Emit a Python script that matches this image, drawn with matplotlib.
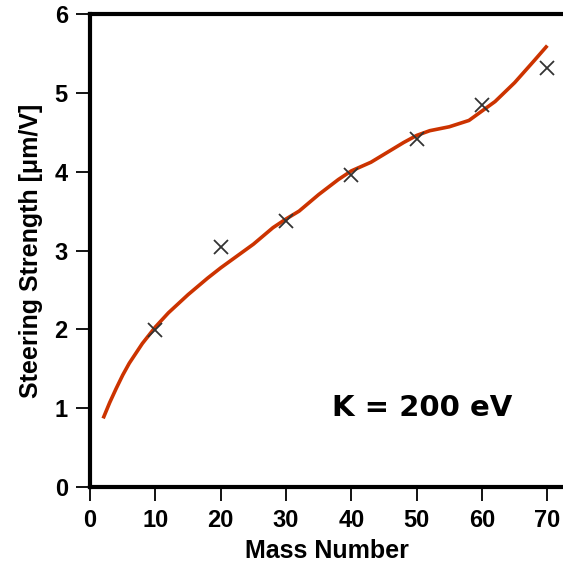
import matplotlib.pyplot as plt

# measured points (x markers)
mass_pts = [10, 20, 30, 40, 50, 60, 70]
strength_pts = [1.99, 3.04, 3.38, 3.96, 4.42, 4.85, 5.31]

# simulated curve
mass_curve = [2, 3, 4, 5, 6, 8, 10, 12, 15, 18, 20, 22, 25, 28, 30, 32, 35, 38, 40,
              43, 46, 48, 50, 52, 55, 58, 60, 62, 65, 68, 70]
strength_curve = [0.87, 1.07, 1.25, 1.42, 1.57, 1.82, 2.03, 2.21, 2.44, 2.65, 2.78,
                  2.90, 3.08, 3.29, 3.40, 3.50, 3.71, 3.90, 4.01, 4.12, 4.27, 4.37,
                  4.46, 4.52, 4.57, 4.65, 4.77, 4.89, 5.13, 5.41, 5.60]

plt.rcParams['font.family'] = ['Liberation Sans', 'DejaVu Sans']

fig = plt.figure(figsize=(5.63, 5.62), dpi=100)
ax = fig.add_axes([0.160, 0.1335, 0.84, 0.8415])

ax.plot(mass_curve, strength_curve, color="#cc3300", lw=2.6, solid_capstyle="butt")
ax.plot(mass_pts, strength_pts, "x", color="#333333", ms=10, mew=1.3)

ax.text(50.9, 1.0, "K = 200 eV", fontsize=21, fontweight="bold",
        family="DejaVu Sans", ha="center", va="center")

ax.set_xlim(0, 72.4)
ax.set_ylim(0, 6)
ax.set_xticks(range(0, 71, 10))
ax.set_yticks(range(0, 7))
ax.spines["right"].set_visible(False)
for s in ["left", "top", "bottom"]:
    ax.spines[s].set_linewidth(3)
ax.tick_params(direction="out", length=10, width=1.3, labelsize=17, pad=6)
for lab in ax.get_xticklabels() + ax.get_yticklabels():
    lab.set_fontweight("bold")

ax.set_xlabel("Mass Number", fontsize=18, fontweight="bold", labelpad=5)
ax.set_ylabel("Steering Strength [μm/V]", fontsize=18, fontweight="bold", labelpad=8)

fig.savefig("out.png", dpi=100)
